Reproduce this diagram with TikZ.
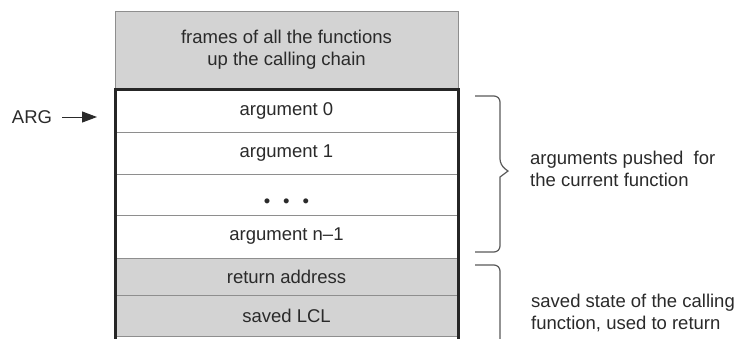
\documentclass[tikz,border=0pt]{standalone}
\usepackage{fontspec}
\setmainfont{Liberation Sans}
\usepackage{tikz}
\usepackage{xcolor}
\usetikzlibrary{arrows.meta,calc,positioning}
\definecolor{CellGray}{HTML}{D3D3D3}
\definecolor{RuleGray}{HTML}{8E8E8E}
\definecolor{InkGray}{HTML}{2A2A2A}
\tikzset{
  stackcell/.style={draw=RuleGray, line width=0.9pt, minimum width=343pt, inner sep=0pt, outer sep=0pt, align=center, text=InkGray},
  graycell/.style={stackcell, fill=CellGray},
  whitecell/.style={stackcell, fill=white},
  framepen/.style={line width=3pt, draw=black!85},
  bracepen/.style={line width=1.2pt, draw=black!65, rounded corners=6pt},
  argarrow/.style={-{Triangle[length=15pt,width=11pt]}, line width=1pt, draw=InkGray, shorten <=10pt},
  sidenote/.style={anchor=west, align=left, inner sep=0pt, text=InkGray}
}

\begin{document}
\begin{tikzpicture}[x=1pt, y=-1pt, font=\fontsize{18.5}{22}\selectfont]
  \useasboundingbox (0,0) rectangle (737,338);
  \clip (0,0) rectangle (737,338);
  % the stack
  \node[graycell, minimum height=78pt] (frames) at (286.5,50) {frames of all the functions\\up the calling chain};
  \node[whitecell, minimum height=43pt, below=0pt of frames] (arg0) {argument 0};
  \node[whitecell, minimum height=42pt, below=0pt of arg0] (arg1) {argument 1};
  \node[whitecell, minimum height=41pt, below=0pt of arg1] (dots) {\raisebox{-13pt}[0pt][0pt]{\textbullet\hspace{13pt}\textbullet\hspace{13pt}\textbullet}};
  \node[whitecell, minimum height=43pt, below=0pt of dots] (argn) {argument n\textendash1};
  \node[graycell, minimum height=37pt, below=0pt of argn] (retaddr) {return address};
  \node[graycell, minimum height=41pt, below=0pt of retaddr] (savedlcl) {saved LCL};
  \coordinate (botleft) at ($(savedlcl.south west)+(0,12)$);
  \coordinate (botright) at ($(savedlcl.south east)+(0,12)$);
  \draw[framepen] (botleft) -- (arg0.north west) -- (arg0.north east) -- (botright);
  % ARG pointer
  \node[inner sep=0pt, text=InkGray] (arglabel) at (32,117) {ARG};
  \coordinate (argtip) at (97,117);
  \draw[argarrow] (arglabel) -- (argtip);
  % braces and notes
  \draw[bracepen] (475,96) -- (500,96) -- (500,165) [sharp corners] -- (508,171) -- (500,177) [rounded corners=6pt] -- (500,252) -- (475,252);
  \node[sidenote] (pushednote) at (530,169) {arguments pushed\ \ for\\the current function};
  \draw[bracepen] (475,265) -- (500,265) -- (500,350);
  \node[sidenote] (savednote) at (531,313) {saved state of the calling\\function, used to return};
\end{tikzpicture}
\end{document}
